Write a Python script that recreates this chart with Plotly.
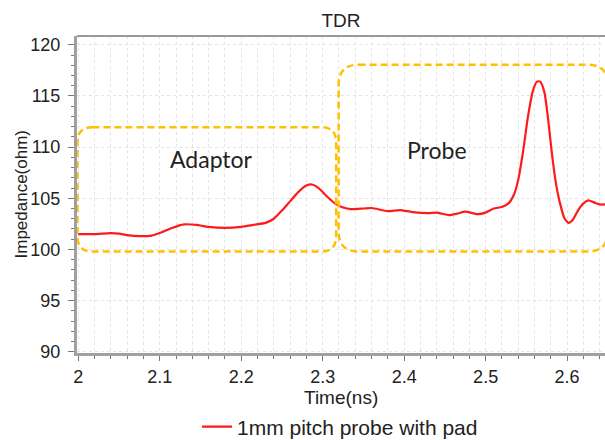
import plotly.graph_objects as go

# ---- data ----
time_ns = [2.000, 2.020, 2.040, 2.050, 2.060, 2.075, 2.090, 2.100, 2.115, 2.130,
           2.145, 2.160, 2.180, 2.200, 2.215, 2.230, 2.240, 2.250, 2.260, 2.270,
           2.280, 2.287, 2.295, 2.305, 2.315, 2.325, 2.335, 2.350, 2.360, 2.380,
           2.395, 2.410, 2.430, 2.440, 2.455, 2.465, 2.475, 2.490, 2.500, 2.510,
           2.520, 2.528, 2.535, 2.540, 2.546, 2.552, 2.558, 2.563, 2.567, 2.572,
           2.576, 2.581, 2.586, 2.591, 2.597, 2.602, 2.607, 2.614, 2.620, 2.626,
           2.633, 2.640, 2.647]
impedance = [101.5, 101.5, 101.6, 101.55, 101.4, 101.3, 101.35, 101.6, 102.1, 102.45,
             102.4, 102.2, 102.1, 102.2, 102.4, 102.6, 103.0, 103.8, 104.7, 105.6,
             106.25, 106.35, 106.0, 105.2, 104.5, 104.1, 103.95, 104.0, 104.05, 103.75,
             103.85, 103.65, 103.55, 103.6, 103.35, 103.5, 103.7, 103.45, 103.6, 104.0,
             104.15, 104.5, 105.4, 106.8, 109.6, 113.0, 115.5, 116.4, 116.4, 115.4,
             113.2, 109.6, 106.6, 104.6, 103.0, 102.6, 102.9, 103.9, 104.5, 104.8,
             104.6, 104.4, 104.4]

series_name = "1mm pitch probe with pad"

# region boxes: [x0, x1, y0, y1, corner radius px]
box_labels = ["Adaptor", "Probe"]
box_x0 = [1.9990, 2.3196]
box_x1 = [2.3166, 2.6500]
box_y0 = [99.8, 99.8]
box_y1 = [111.95, 118.05]
box_r = [15, 20]
label_x = [2.164, 2.440]
label_y = [108.85, 109.75]

x_tickvals = [2.0, 2.1, 2.2, 2.3, 2.4, 2.5, 2.6]
x_ticktext = ["2", "2.1", "2.2", "2.3", "2.4", "2.5", "2.6"]
y_tickvals = [90, 95, 100, 105, 110, 115, 120]

X_RANGE = [1.9985, 2.6465]
Y_RANGE = [89.88, 120.86]

W, H = 605, 440
ML, MR, MT, MB = 77, 0, 36, 87
PW = W - ML - MR
PH = H - MT - MB
px_x = PW / (X_RANGE[1] - X_RANGE[0])
px_y = PH / (Y_RANGE[1] - Y_RANGE[0])

FONT = "Liberation Sans"

fig = go.Figure()
fig.add_trace(go.Scatter(
    x=time_ns, y=impedance, mode="lines", name=series_name,
    line=dict(color="#ff1a1a", width=2.2, shape="spline", smoothing=0.6),
    showlegend=True,
))

shapes = []
for x0, x1, y0, y1, r in zip(box_x0, box_x1, box_y0, box_y1, box_r):
    rx = r / px_x
    ry = r / px_y
    path = (f"M {x0+rx},{y1} L {x1-rx},{y1} Q {x1},{y1} {x1},{y1-ry} "
            f"L {x1},{y0+ry} Q {x1},{y0} {x1-rx},{y0} "
            f"L {x0+rx},{y0} Q {x0},{y0} {x0},{y0+ry} "
            f"L {x0},{y1-ry} Q {x0},{y1} {x0+rx},{y1} Z")
    shapes.append(dict(type="path", path=path, xref="x", yref="y",
                       line=dict(color="#ffc000", width=2.5, dash="7px,4px"),
                       layer="above"))

annotations = []
for t, lx, ly in zip(box_labels, label_x, label_y):
    annotations.append(dict(x=lx, y=ly, xref="x", yref="y", text=t, showarrow=False,
                            font=dict(family="Lato", size=23, color="#222222")))

annotations.append(dict(x=0.5, y=(MT + PH - 397) / PH, xref="paper", yref="paper",
                        xanchor="center", yanchor="middle",
                        text="Time(ns)", showarrow=False,
                        font=dict(family=FONT, size=19, color="#222222")))
annotations.append(dict(x=(21 - ML) / PW, y=0.5, xref="paper", yref="paper",
                        xanchor="center", yanchor="middle",
                        text="Impedance(ohm)", textangle=-90, showarrow=False,
                        font=dict(family=FONT, size=17, color="#222222")))

fig.update_layout(
    width=W, height=H,
    margin=dict(l=ML, r=MR, t=MT, b=MB, autoexpand=False),
    paper_bgcolor="white", plot_bgcolor="white",
    title=dict(text="TDR", x=0.5, xref="paper", xanchor="center",
               y=1 - 20 / H, yref="container", yanchor="middle",
               font=dict(family=FONT, size=19, color="#222222")),
    shapes=shapes,
    annotations=annotations,
    legend=dict(orientation="h", x=340 / W, xref="container", xanchor="center",
                y=1 - 427 / H, yref="container", yanchor="middle",
                font=dict(family=FONT, size=21, color="#222222"),
                bgcolor="rgba(0,0,0,0)"),
    xaxis=dict(range=X_RANGE, tickvals=x_tickvals, ticktext=x_ticktext, automargin=False,
               showgrid=True, gridcolor="#e4e4e4", griddash="dot", gridwidth=1,
               ticks="outside", ticklen=5, tickcolor="#777", tickwidth=1,
               showline=True, linecolor="#a0a0a0", linewidth=3, mirror=False,
               tickfont=dict(family=FONT, size=18, color="#222222"),
               minor=dict(dtick=0.02, tick0=2.0, showgrid=True, gridcolor="#e4e4e4",
                          griddash="dot", ticks="outside", ticklen=3, tickcolor="#777"),
               zeroline=False),
    yaxis=dict(range=Y_RANGE, tickvals=y_tickvals, automargin=False,
               showgrid=True, gridcolor="#e4e4e4", griddash="dot", gridwidth=1,
               ticks="outside", ticklen=6, tickcolor="#777", tickwidth=1,
               ticklabelstandoff=4,
               showline=True, linecolor="#a0a0a0", linewidth=3, mirror=False,
               tickfont=dict(family=FONT, size=18, color="#222222"),
               minor=dict(dtick=1, tick0=90, showgrid=False,
                          ticks="outside", ticklen=3, tickcolor="#777"),
               zeroline=False),
)
# top border of plot frame
fig.add_shape(type="line", xref="paper", yref="paper", x0=0, x1=1, y0=1, y1=1,
              line=dict(color="#999999", width=2), layer="above")

fig.write_html("out.html", config={"displayModeBar": False},
               post_script="document.body.style.margin='0';document.body.style.overflow='hidden';")
